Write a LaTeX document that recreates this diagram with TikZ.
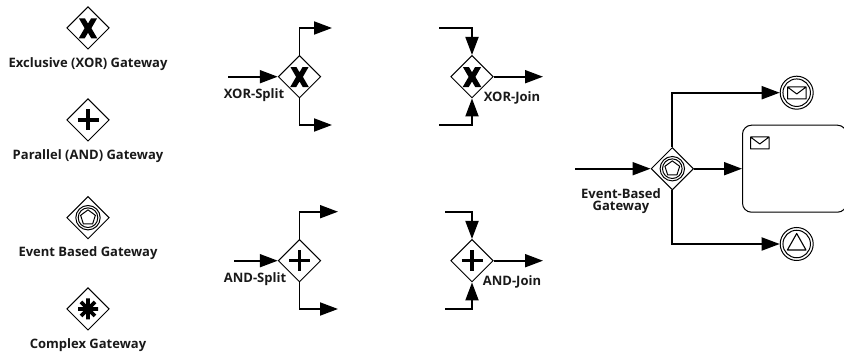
\documentclass[tikz,border=0pt]{standalone}
\usepackage{fontspec}
\setmainfont{Open Sans}
\usetikzlibrary{arrows.meta,shapes.geometric}
\tikzset{
  x=1pt,y=-1pt,
  gate/.style={draw=black,fill=white,diamond,aspect=1,minimum size=42.5pt,inner sep=0pt,line width=1pt},
  flow/.style={line width=1.9pt,-{Triangle[length=18pt,width=13pt]}},
  lab/.style={font=\bfseries\fontsize{13}{13.5}\selectfont,text=black!90,inner sep=0pt,align=center,anchor=center},
  xmark/.pic={\fill[black] (-9,-9.5)--(-3,-9.5)--(0,-4.4)--(3,-9.5)--(9,-9.5)--(3.4,0.2)--(9.4,10.5)--(3.4,10.5)--(0,4.8)--(-3.4,10.5)--(-9.4,10.5)--(-3.4,0.2)--cycle;},
  plusmark/.pic={\draw[line width=3.2pt] (-10.5,0)--(10.5,0) (0,-10.5)--(0,10.5);},
  evmark/.pic={\draw[line width=1pt] (0,0) circle (12.2) (0,0) circle (9.8);
    \draw[line width=1pt,line join=round] (0,-7.8)--(7.4,-2.4)--(4.6,6.3)--(-4.6,6.3)--(-7.4,-2.4)--cycle;},
  cxmark/.pic={\draw[line width=3.6pt] (-10,0)--(10,0) (0,-10.5)--(0,10.5) (-7,-7)--(7,7) (-7,7)--(7,-7);},
  ring/.style={draw=black,fill=white,circle,minimum size=33pt,inner sep=0pt,line width=1pt},
  ringin/.style={draw=black,circle,minimum size=27.5pt,inner sep=0pt,line width=1pt},
}
\newcommand{\envelope}[2]{\draw[line width=1pt,line join=round] (#1,#2) rectangle ++(18.5,12) (#1,#2) -- ++(9.25,7) -- ++(9.25,-7);}
\begin{document}
\begin{tikzpicture}
\useasboundingbox (0,0) rectangle (844,355);
% legend
\node[gate] (g1) at (88,28) {}; \pic at (g1) {xmark};
\node[lab] (t1) at (88,64) {Exclusive (XOR) Gateway};
\node[gate] (g2) at (88,120) {}; \pic at (g2) {plusmark};
\node[lab] (t2) at (88,156.5) {Parallel (AND) Gateway};
\node[gate] (g3) at (88,217.7) {}; \pic at (g3) {evmark};
\node[lab] (t3) at (88,253.5) {Event Based Gateway};
\node[gate] (g4) at (88,309) {}; \pic at (g4) {cxmark};
\node[lab] (t4) at (88,345.5) {Complex Gateway};
% xor split
\node[gate] (xs) at (299.5,76.7) {}; \pic at (xs) {xmark};
\coordinate (xsi) at (228,76.7); \coordinate (xst) at (332,28); \coordinate (xsb) at (332,125);
\draw[flow] (xsi) -- (xs.west);
\draw[flow] (xs.north) |- (xst);
\draw[flow] (xs.south) |- (xsb);
\node[lab] (xsl) at (254,95) {XOR-Split};
% xor join
\node[gate] (xj) at (472,76.7) {}; \pic at (xj) {xmark};
\coordinate (xji) at (439,28); \coordinate (xjk) at (439,125); \coordinate (xjo) at (543,76.7);
\draw[flow] (xji) -| (xj.north);
\draw[flow] (xjk) -| (xj.south);
\draw[flow] (xj.east) -- (xjo);
\node[lab] (xjl) at (512,98) {XOR-Join};
% and split
\node[gate] (as) at (299.5,260.7) {}; \pic at (as) {plusmark};
\coordinate (asi) at (234,260.7); \coordinate (ast) at (338,211.7); \coordinate (asb) at (338,309);
\draw[flow] (asi) -- (as.west);
\draw[flow] (as.north) |- (ast);
\draw[flow] (as.south) |- (asb);
\node[lab] (asl) at (255,279) {AND-Split};
% and join
\node[gate] (aj) at (472,260.7) {}; \pic at (aj) {plusmark};
\coordinate (aji) at (445,211.7); \coordinate (ajk) at (445,309); \coordinate (ajo) at (543,260.7);
\draw[flow] (aji) -| (aj.north);
\draw[flow] (ajk) -| (aj.south);
\draw[flow] (aj.east) -- (ajo);
\node[lab] (ajl) at (512,282) {AND-Join};
% event based
\node[gate] (eb) at (672.3,168.7) {}; \pic at (eb) {evmark};
\coordinate (ebi) at (575,168.7);
\node[draw=black,fill=white,rounded corners=9pt,line width=1pt,minimum width=104pt,minimum height=87pt,inner sep=0pt] (task) at (794.5,168.7) {};
\envelope{750.5}{137}
\node[ring] (em) at (796.7,92.7) {};
\node[ringin] (emi) at (em) {};
\envelope{787.5}{87}
\node[ring] (et) at (796.7,244) {};
\node[ringin] (eti) at (et) {};
\draw[line width=1.1pt,line join=round] (796.7,233.5)--(806,250)--(787.4,250)--cycle;
\draw[flow] (ebi) -- (eb.west);
\draw[flow] (eb.east) -- (task.west);
\draw[flow] (eb.north) |- (em.west);
\draw[flow] (eb.south) |- (et.west);
\node[lab] (ebl) at (621,201) {Event-Based\\[-1pt]Gateway};
\end{tikzpicture}
\end{document}
